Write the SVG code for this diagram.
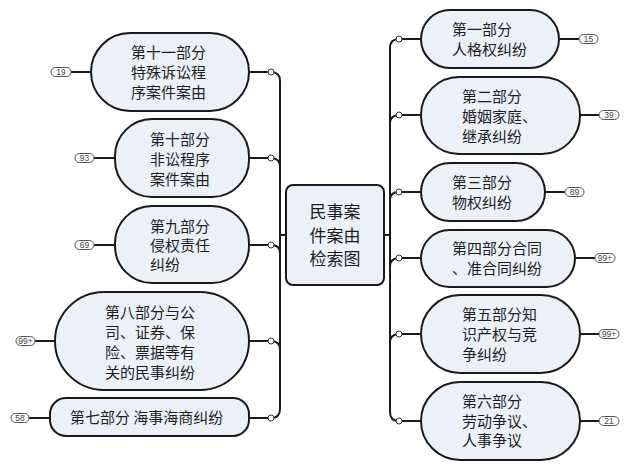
<svg xmlns="http://www.w3.org/2000/svg" width="640" height="469" viewBox="0 0 640 469">
<style>
.n{fill:#eaf1f9;stroke:#1a1a1a;stroke-width:2}
.t{font-family:"Noto Sans CJK SC","Noto Sans",sans-serif;font-size:15px;fill:#1e1e1e}
.c{font-family:"Noto Sans CJK SC","Noto Sans",sans-serif;font-size:17px;fill:#1e1e1e;text-anchor:middle}
.l{fill:none;stroke:#1a1a1a;stroke-width:2}
.j{fill:#fff;stroke:#333;stroke-width:1}
.b{fill:#fff;stroke:#555;stroke-width:1}
.bt{font-family:"Liberation Sans","DejaVu Sans",sans-serif;font-size:8.5px;fill:#444;text-anchor:middle}
</style>
<rect width="640" height="469" fill="#fff"/>
<g id="connectors">
<path class="l" d="M271,72 Q280,72 280,81 L280,409 Q280,418 271,418"/>
<path class="l" d="M280,167 Q280,158 271,158"/>
<path class="l" d="M280,253 Q280,245 271,245"/>
<path class="l" d="M280,350 Q280,341 271,341"/>
<path class="l" d="M280,235 L286,235"/>
<path class="l" d="M399,39 Q390,39 390,48 L390,412 Q390,421 399,421"/>
<path class="l" d="M390,124 Q390,115 399,115"/>
<path class="l" d="M390,200 Q390,192 399,192"/>
<path class="l" d="M390,267 Q390,258 399,258"/>
<path class="l" d="M390,343 Q390,334 399,334"/>
<path class="l" d="M384,235 L390,235"/>
<path class="l" d="M249,72 H271 M249,158 H271 M249,245 H271 M249,341 H271 M249,418 H271"/>
<path class="l" d="M399,39 H421 M399,115 H421 M399,192 H421 M399,258 H421 M399,334 H421 M399,421 H421"/>
<path class="l" d="M71,72 H91 M94,158 H115 M94,245 H115 M35,341 H55 M29,418 H50"/>
<path class="l" d="M559,39 H579 M580,115 H599 M545,192 H565 M575,258 H595 M580,334 H599 M580,421 H599"/>
<circle class="j" cx="271" cy="72" r="3"/>
<circle class="j" cx="271" cy="158" r="3"/>
<circle class="j" cx="271" cy="245" r="3"/>
<circle class="j" cx="271" cy="341" r="3"/>
<circle class="j" cx="271" cy="418" r="3"/>
<circle class="j" cx="399" cy="39" r="3"/>
<circle class="j" cx="399" cy="115" r="3"/>
<circle class="j" cx="399" cy="192" r="3"/>
<circle class="j" cx="399" cy="258" r="3"/>
<circle class="j" cx="399" cy="334" r="3"/>
<circle class="j" cx="399" cy="421" r="3"/>
</g>
<g id="center">
<rect class="n" x="286" y="185" width="98" height="100" rx="7"/>
<text class="c" x="335" y="218"><tspan x="335">民事案</tspan><tspan x="335" dy="23.5">件案由</tspan><tspan x="335" dy="23.5">检索图</tspan></text>
</g>
<g id="n11">
<rect class="n" x="91" y="33" width="158" height="78" rx="39"/>
<text class="t" x="131" y="57.5"><tspan x="131">第十一部分</tspan><tspan x="131" dy="20">特殊诉讼程</tspan><tspan x="131" dy="20">序案件案由</tspan></text>
<rect class="b" x="51" y="67.5" width="20" height="9" rx="4.5"/>
<text class="bt" x="61" y="75">19</text>
</g>
<g id="n10">
<rect class="n" x="115" y="119" width="134" height="78" rx="37"/>
<text class="t" x="150" y="144.5"><tspan x="150">第十部分</tspan><tspan x="150" dy="20">非讼程序</tspan><tspan x="150" dy="20">案件案由</tspan></text>
<rect class="b" x="75" y="153.5" width="19" height="9" rx="4.5"/>
<text class="bt" x="84.5" y="161">93</text>
</g>
<g id="n9">
<rect class="n" x="115" y="206" width="134" height="77" rx="37"/>
<text class="t" x="150" y="231.5"><tspan x="150">第九部分</tspan><tspan x="150" dy="19">侵权责任</tspan><tspan x="150" dy="19">纠纷</tspan></text>
<rect class="b" x="75" y="240.5" width="19" height="9" rx="4.5"/>
<text class="bt" x="84.5" y="248">69</text>
</g>
<g id="n8">
<rect class="n" x="55" y="292" width="194" height="98" rx="49"/>
<text class="t" x="105" y="317.5"><tspan x="105">第八部分与公</tspan><tspan x="105" dy="20">司、证券、保</tspan><tspan x="105" dy="20.5">险、票据等有</tspan><tspan x="105" dy="20">关的民事纠纷</tspan></text>
<rect class="b" x="16" y="336.5" width="19" height="9" rx="4.5"/>
<text class="bt" x="25.5" y="344">99+</text>
</g>
<g id="n7">
<rect class="n" x="50" y="398" width="199" height="38" rx="16"/>
<text class="t" x="70" y="423">第七部分 海事海商纠纷</text>
<rect class="b" x="11" y="413.5" width="18" height="9" rx="4.5"/>
<text class="bt" x="20" y="421">58</text>
</g>
<g id="n1">
<rect class="n" x="421" y="10" width="138" height="58" rx="29"/>
<text class="t" x="452" y="35"><tspan x="452">第一部分</tspan><tspan x="452" dy="20">人格权纠纷</tspan></text>
<rect class="b" x="579" y="34.5" width="19" height="9" rx="4.5"/>
<text class="bt" x="588.5" y="42">15</text>
</g>
<g id="n2">
<rect class="n" x="421" y="77" width="159" height="77" rx="38"/>
<text class="t" x="462" y="102"><tspan x="462">第二部分</tspan><tspan x="462" dy="20">婚姻家庭、</tspan><tspan x="462" dy="19.5">继承纠纷</tspan></text>
<rect class="b" x="599" y="110.5" width="20" height="9" rx="4.5"/>
<text class="bt" x="609" y="118">39</text>
</g>
<g id="n3">
<rect class="n" x="421" y="163" width="124" height="58" rx="29"/>
<text class="t" x="452" y="188"><tspan x="452">第三部分</tspan><tspan x="452" dy="19.5">物权纠纷</tspan></text>
<rect class="b" x="565" y="187.5" width="19" height="9" rx="4.5"/>
<text class="bt" x="574.5" y="195">89</text>
</g>
<g id="n4">
<rect class="n" x="421" y="230" width="154" height="57" rx="28.5"/>
<text class="t" x="452" y="253.5"><tspan x="452">第四部分合同</tspan><tspan x="452" dy="20">、准合同纠纷</tspan></text>
<rect class="b" x="595" y="253.5" width="20" height="9" rx="4.5"/>
<text class="bt" x="605" y="261">99+</text>
</g>
<g id="n5">
<rect class="n" x="421" y="295" width="159" height="78" rx="39"/>
<text class="t" x="462" y="320"><tspan x="462">第五部分知</tspan><tspan x="462" dy="19.5">识产权与竞</tspan><tspan x="462" dy="20.5">争纠纷</tspan></text>
<rect class="b" x="599" y="329.5" width="20" height="9" rx="4.5"/>
<text class="bt" x="609" y="337">99+</text>
</g>
<g id="n6">
<rect class="n" x="421" y="382" width="159" height="78" rx="39"/>
<text class="t" x="462" y="407"><tspan x="462">第六部分</tspan><tspan x="462" dy="19.5">劳动争议、</tspan><tspan x="462" dy="19">人事争议</tspan></text>
<rect class="b" x="599" y="416.5" width="20" height="9" rx="4.5"/>
<text class="bt" x="609" y="424">21</text>
</g>
</svg>
